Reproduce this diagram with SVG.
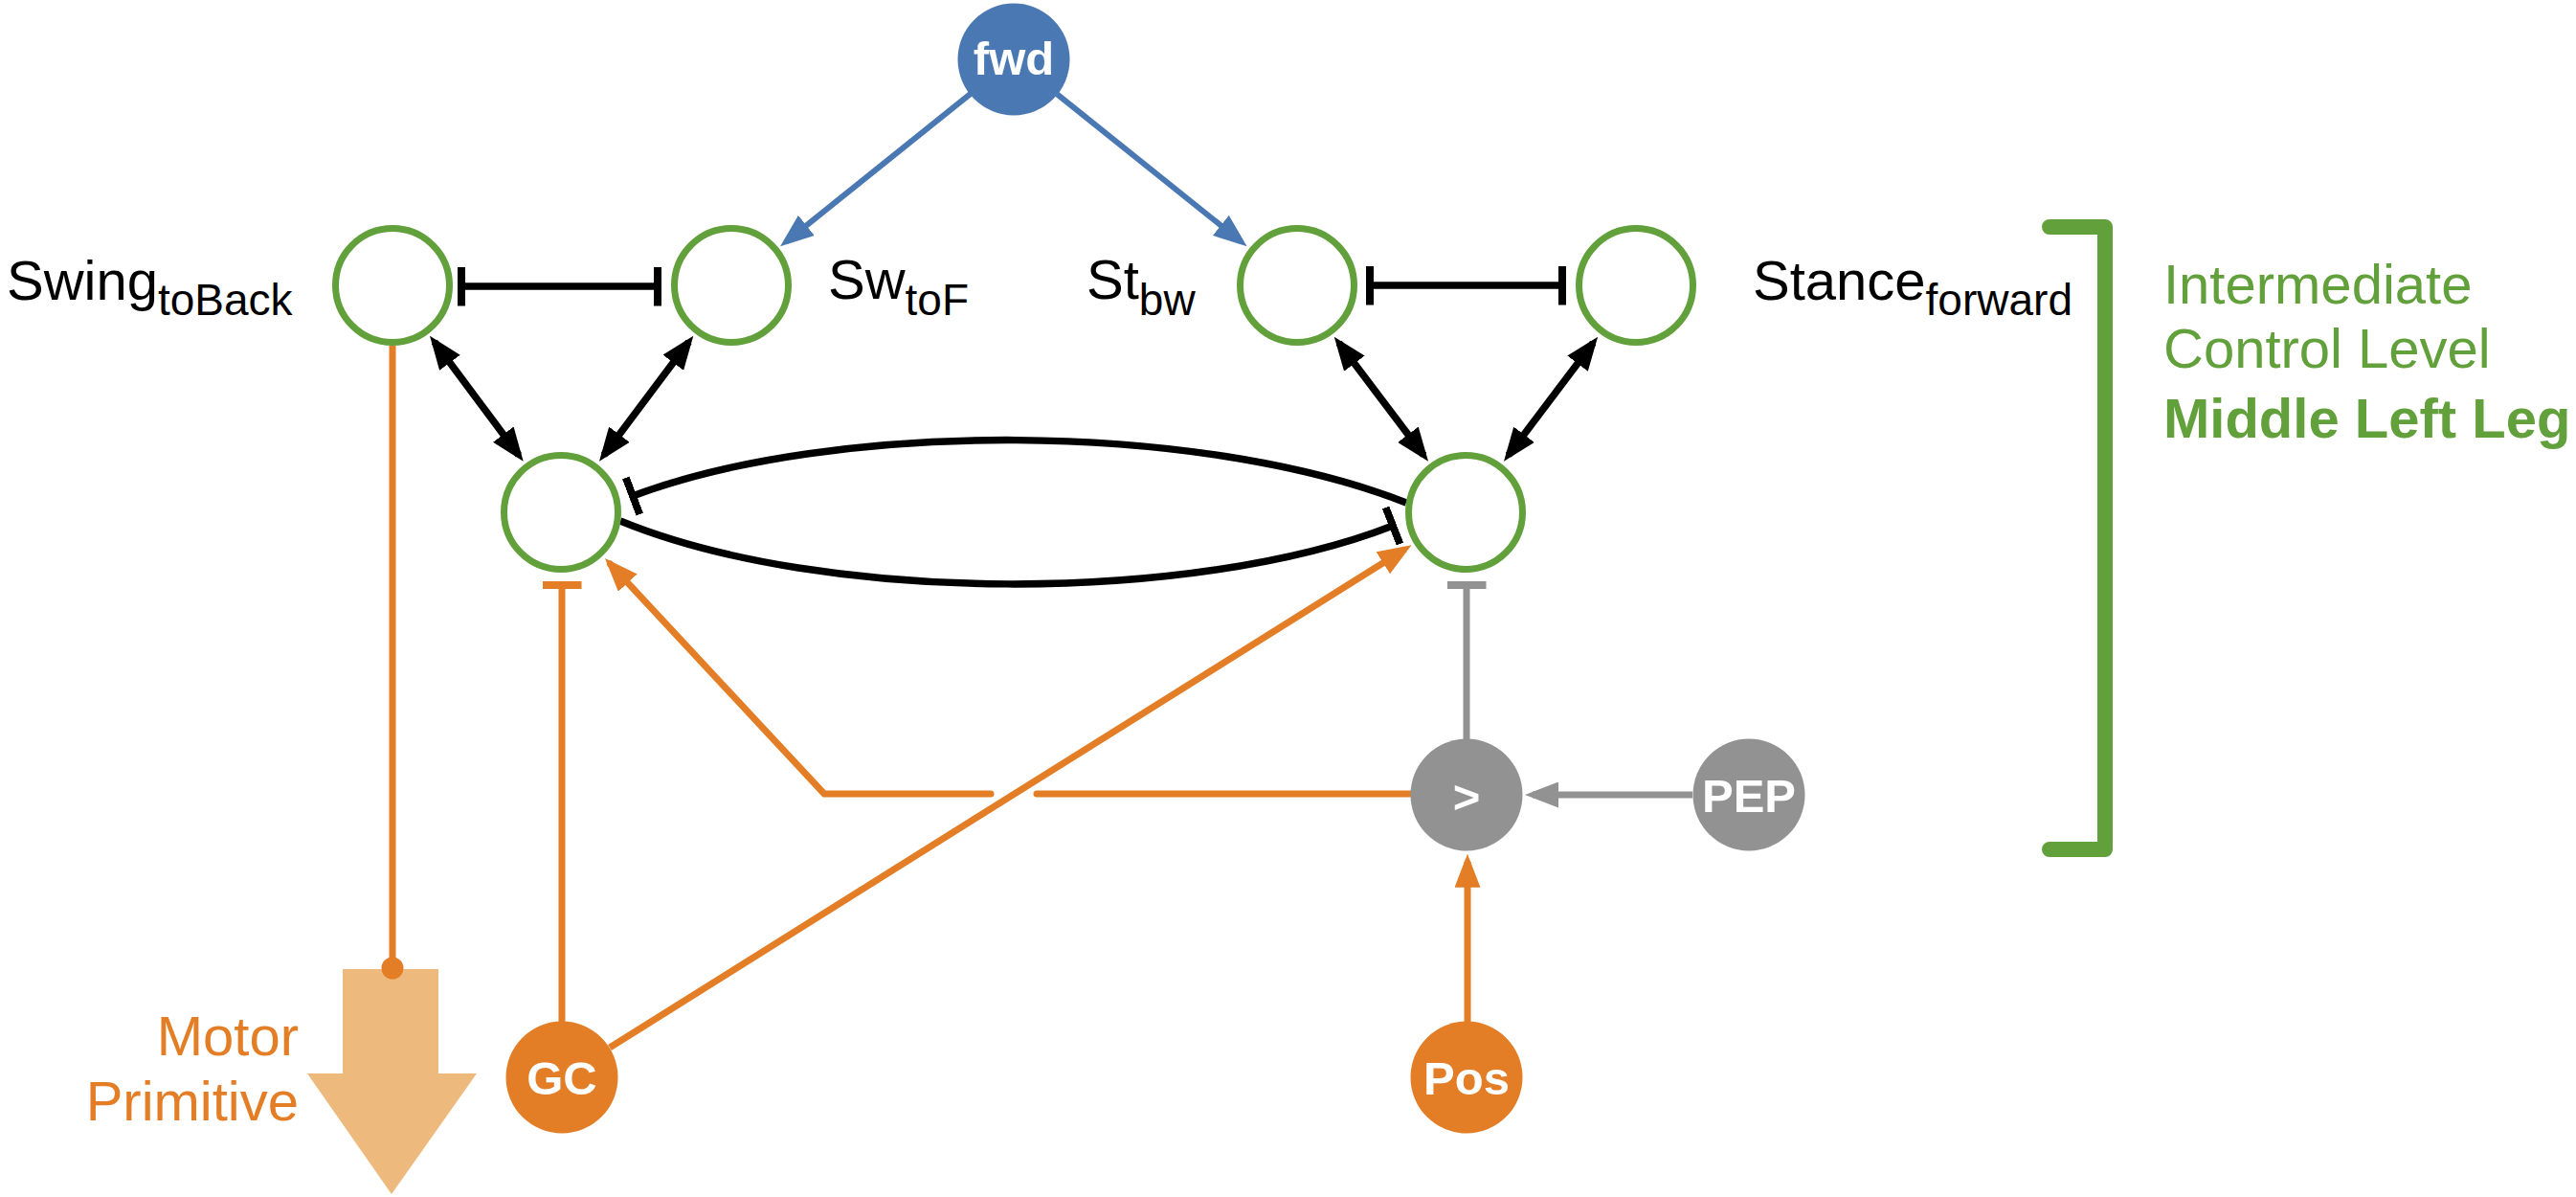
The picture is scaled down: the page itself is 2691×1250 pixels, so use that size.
<svg xmlns="http://www.w3.org/2000/svg" width="2691" height="1250" viewBox="0 0 2691 1250">
<style>
  text { font-family: "Liberation Sans", Arial, Helvetica, sans-serif; }
  .lbl { font-size: 58px; fill: #000; }
  .sub { font-size: 46px; }
  .nodetxt { font-size: 49px; font-weight: bold; fill: #fff; text-anchor: middle; }
  .ring { fill: #fff; stroke: #62A03B; stroke-width: 7; }
  .blk { fill: none; stroke: #000; stroke-width: 7.5; }
  .org { fill: none; stroke: #E37E26; stroke-width: 7; }
  .gry { fill: none; stroke: #929292; stroke-width: 7; }
  .blu { fill: none; stroke: #4A78B2; stroke-width: 6; }
  .green { fill: #62A03B; font-size: 58px; }
</style>
<defs>
  <marker id="arrBlk" markerUnits="userSpaceOnUse" viewBox="0 0 35 27" markerWidth="35" markerHeight="27" refX="27" refY="13.5" orient="auto-start-reverse"><path d="M0,0 L35,13.5 L0,27 z" fill="#000"/></marker>
  <marker id="arrBlu" markerUnits="userSpaceOnUse" viewBox="0 0 35 27" markerWidth="35" markerHeight="27" refX="27" refY="13.5" orient="auto"><path d="M0,0 L35,13.5 L0,27 z" fill="#4A78B2"/></marker>
  <marker id="arrOrg" markerUnits="userSpaceOnUse" viewBox="0 0 35 27" markerWidth="35" markerHeight="27" refX="27" refY="13.5" orient="auto"><path d="M0,0 L35,13.5 L0,27 z" fill="#E37E26"/></marker>
  <marker id="arrGry" markerUnits="userSpaceOnUse" viewBox="0 0 35 27" markerWidth="35" markerHeight="27" refX="27" refY="13.5" orient="auto"><path d="M0,0 L35,13.5 L0,27 z" fill="#929292"/></marker>
  <marker id="teeBlk" markerUnits="userSpaceOnUse" viewBox="0 0 8 41" markerWidth="8" markerHeight="41" refX="4" refY="20.5" orient="auto-start-reverse"><rect x="0" y="0" width="8" height="41" fill="#000"/></marker>
  <marker id="teeOrg" markerUnits="userSpaceOnUse" viewBox="0 0 8 41" markerWidth="8" markerHeight="41" refX="4" refY="20.5" orient="auto"><rect x="0" y="0" width="8" height="41" fill="#E37E26"/></marker>
  <marker id="teeGry" markerUnits="userSpaceOnUse" viewBox="0 0 8 41" markerWidth="8" markerHeight="41" refX="4" refY="20.5" orient="auto"><rect x="0" y="0" width="8" height="41" fill="#929292"/></marker>
</defs>
<rect width="2691" height="1250" fill="#fff"/>

<g id="motor-primitive">
  <polygon points="358,1012 458,1012 458,1121 498,1121 409,1247 321,1121 358,1121" fill="#EEB97C"/>
  <text x="312" y="1102" text-anchor="end" style="font-size:58px;fill:#E37E26">Motor</text>
  <text x="312" y="1170" text-anchor="end" style="font-size:58px;fill:#E37E26">Primitive</text>
</g>

<g id="connectors">
  <line class="blu" x1="1013.6" y1="98.2" x2="821.3" y2="252.3" marker-end="url(#arrBlu)"/>
  <line class="blu" x1="1104.3" y1="98.3" x2="1296.4" y2="252.3" marker-end="url(#arrBlu)"/>
  <line class="blk" x1="482" y1="299" x2="687" y2="299" marker-start="url(#teeBlk)" marker-end="url(#teeBlk)"/>
  <line class="blk" x1="1431" y1="298" x2="1632" y2="298" marker-start="url(#teeBlk)" marker-end="url(#teeBlk)"/>
  <line class="blk" x1="453.8" y1="357.1" x2="541.9" y2="475.3" marker-start="url(#arrBlk)" marker-end="url(#arrBlk)"/>
  <line class="blk" x1="719.5" y1="357.1" x2="630.8" y2="475.3" marker-start="url(#arrBlk)" marker-end="url(#arrBlk)"/>
  <line class="blk" x1="1398.6" y1="358.1" x2="1487.2" y2="475.3" marker-start="url(#arrBlk)" marker-end="url(#arrBlk)"/>
  <line class="blk" x1="1664.3" y1="358.1" x2="1575.8" y2="475.3" marker-start="url(#arrBlk)" marker-end="url(#arrBlk)"/>
  <path class="blk" d="M1469,525 C1250,439 870,439 661,518" marker-end="url(#teeBlk)"/>
  <path class="blk" d="M648,544 C860,631 1245,631 1455,549" marker-end="url(#teeBlk)"/>
  <line class="org" x1="410" y1="361" x2="410" y2="1011"/>
  <circle cx="410" cy="1011" r="11.5" fill="#E37E26"/>
  <line class="org" x1="587" y1="1067" x2="587" y2="611" marker-end="url(#teeOrg)"/>
  <line class="org" x1="636.9" y1="1094" x2="1467.7" y2="573.5" marker-end="url(#arrOrg)"/>
  <path class="org" d="M1474,829 H1083" stroke-linecap="round"/>
  <path class="org" d="M1035,829 H861 L637.4,588.9" stroke-linecap="round" marker-end="url(#arrOrg)"/>
  <line class="gry" x1="1532" y1="772" x2="1532" y2="611" marker-end="url(#teeGry)"/>
  <line class="org" x1="1533" y1="1067" x2="1533" y2="899.7" marker-end="url(#arrOrg)"/>
  <line class="gry" x1="1768" y1="830" x2="1601" y2="830" marker-end="url(#arrGry)"/>
</g>

<g id="node-fwd">
  <circle cx="1059" cy="62" r="58.5" fill="#4A78B2"/>
  <text class="nodetxt" x="1059" y="78">fwd</text>
</g>
<g id="node-swing-toback">
  <circle class="ring" cx="410" cy="298" r="59.5"/>
  <text class="lbl" x="7" y="313">Swing<tspan class="sub" dy="16">toBack</tspan></text>
</g>
<g id="node-sw-tof">
  <circle class="ring" cx="764" cy="298" r="59.5"/>
  <text class="lbl" x="865" y="312">Sw<tspan class="sub" dy="17">toF</tspan></text>
</g>
<g id="node-st-bw">
  <circle class="ring" cx="1355" cy="298" r="59.5"/>
  <text class="lbl" x="1135" y="312">St<tspan class="sub" dy="17">bw</tspan></text>
</g>
<g id="node-stance-forward">
  <circle class="ring" cx="1709" cy="298" r="59.5"/>
  <text class="lbl" x="1831" y="313">Stance<tspan class="sub" dy="16">forward</tspan></text>
</g>
<g id="node-swing-unit">
  <circle class="ring" cx="586" cy="535" r="59.5"/>
</g>
<g id="node-stance-unit">
  <circle class="ring" cx="1531" cy="535" r="59.5"/>
</g>
<g id="node-compare">
  <circle cx="1532" cy="830" r="58.5" fill="#929292"/>
  <text class="nodetxt" x="1532" y="849">&gt;</text>
</g>
<g id="node-pep">
  <circle cx="1827" cy="830" r="58.5" fill="#929292"/>
  <text class="nodetxt" x="1827" y="848">PEP</text>
</g>
<g id="node-gc">
  <circle cx="587" cy="1125" r="58.5" fill="#E37E26"/>
  <text class="nodetxt" x="587" y="1143">GC</text>
</g>
<g id="node-pos">
  <circle cx="1532" cy="1125" r="58.5" fill="#E37E26"/>
  <text class="nodetxt" x="1532" y="1143">Pos</text>
</g>

<g id="level-bracket">
  <path d="M2141,237 H2199 V887 H2141" fill="none" stroke="#62A03B" stroke-width="16" stroke-linecap="round" stroke-linejoin="round"/>
  <text class="green" x="2260" y="317">Intermediate</text>
  <text class="green" x="2260" y="384">Control Level</text>
  <text class="green" x="2260" y="457" font-weight="bold">Middle Left Leg</text>
</g>
</svg>
